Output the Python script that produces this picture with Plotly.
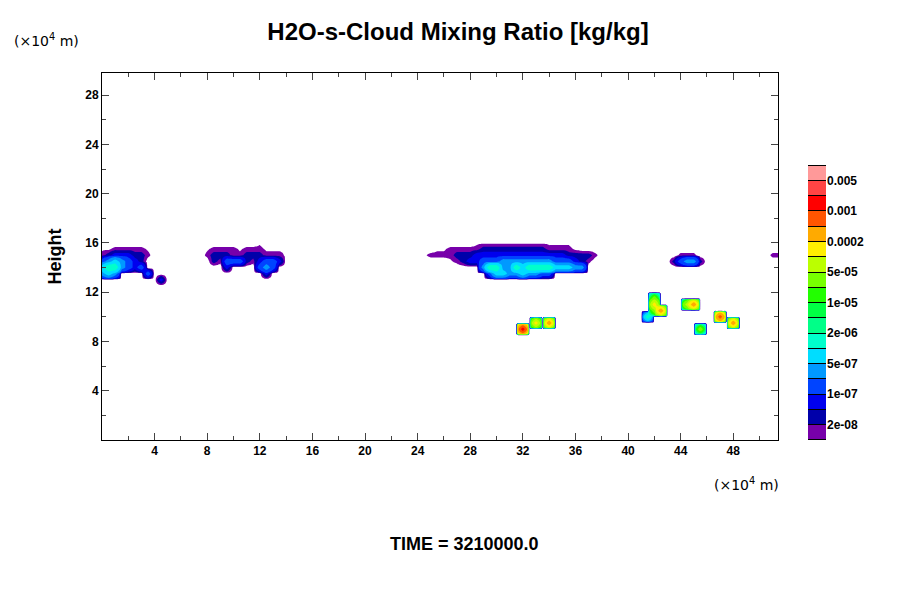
import numpy as np
import plotly.graph_objects as go

# contour levels [kg/kg] and the colour of each band between them
levels = [1e-8, 2e-8, 5e-8, 1e-7, 2e-7, 5e-7, 1e-6, 2e-6, 5e-6, 1e-5,
          2e-5, 5e-5, 1e-4, 2e-4, 5e-4, 1e-3, 2e-3, 5e-3, 1e-2]
band_colors = ['#7700AA', '#0000AA', '#0000EE', '#0044FF', '#0099FF', '#00DDFF',
               '#00FFCC', '#00FF88', '#00FF44', '#22FF00', '#77FF00', '#BBFF00',
               '#FFEE00', '#FFAA00', '#FF5500', '#FF0000', '#FF4444', '#FF9999']
cbar_labels = ['2e-08', '1e-07', '5e-07', '2e-06', '1e-05', '5e-05', '0.0002', '0.001', '0.005']

# cloud field: per height (x10^4 m), segments of
# (start x, band digits every 0.5 in x); digit = band index (base 36)
cloud_rows = {
    16.0: [(12.0, "0"), (28.5, "000000000000000")],
    15.5: [(0.0, "00111110"), (8.0, "0111101110000"), (25.5, "0011111222222222211110")],
    15.0: [(0.0, "12333221"), (8.0, "1222112221110"), (24.5, "011112223333333333333322221"),
           (44.0, "111"), (51.0, "11")],
    14.5: [(0.0, "4565432"), (8.5, "21444213443"), (26.5, "0123344455555555444321"),
           (43.5, "24552")],
    14.0: [(0.0, "6775434"), (9.5, "3"), (12.0, "454"), (29.0, "5775576777766655")],
    13.5: [(0.0, "565"), (3.5, "4"), (12.5, "3"), (29.5, "4665565544")],
    13.0: [(4.5, "3")],
    11.5: [(42.0, "a")],
    11.0: [(42.0, "c"), (44.5, "bd")],
    10.5: [(42.0, "ad")],
    10.0: [(41.5, "7"), (47.0, "e")],
    9.5: [(33.0, "c"), (34.0, "d"), (48.0, "d")],
    9.0: [(32.0, "f"), (45.5, "a")],
}

# coarse grid of mixing ratio values (0 = no cloud)
xg = np.arange(0, 52.01, 0.5)
yg = np.arange(0, 30.01, 0.5)
centers = np.sqrt(np.array(levels[:-1]) * np.array(levels[1:]))
q = np.zeros((len(yg), len(xg)))
for yv, segs in cloud_rows.items():
    j = int(round(yv / 0.5))
    for x0, digits in segs:
        i0 = int(round(x0 / 0.5))
        for k, ch in enumerate(digits):
            if i0 + k < len(xg):
                q[j, i0 + k] = centers[int(ch, 36)]

# bilinear refinement of the linear field, then map to band index
xf = np.arange(0, 52.01, 0.1)
yf = np.arange(0, 30.01, 0.1)
qx = np.array([np.interp(xf, xg, row) for row in q])
qf = np.array([np.interp(yf, yg, col) for col in qx.T]).T
with np.errstate(divide='ignore'):
    lq = np.log10(qf)
nb = len(band_colors)
zf = np.where(qf > 0, np.interp(lq, np.log10(levels), np.arange(nb + 1), left=-1), -1)

allc = ['#FFFFFF'] + band_colors
cs = []
for k, c in enumerate(allc):
    cs.append([k / len(allc), c])
    cs.append([(k + 1) / len(allc), c])

fig = go.Figure()
fig.add_trace(go.Contour(
    x=xf, y=yf, z=zf, colorscale=cs, zmin=-1, zmax=nb, showscale=False,
    contours=dict(start=0, end=nb, size=1, coloring='fill'),
    line=dict(width=0), hoverinfo='skip'))

for k, c in enumerate(band_colors):
    fig.add_trace(go.Bar(x=[0], y=[1], marker=dict(color=c, line=dict(color='black', width=1)),
                         width=1, xaxis='x2', yaxis='y2', showlegend=False))

tf = dict(family='Liberation Sans', size=12, color='black', weight='bold')
fig.update_layout(
    width=900, height=600, barmode='stack', plot_bgcolor='white', paper_bgcolor='white',
    margin=dict(l=94, r=82, t=65, b=168), showlegend=False,
    xaxis=dict(domain=[0, 0.9337], range=[0, 51.4], tickvals=list(range(4, 49, 4)),
               ticks='inside', ticklen=7, showline=True, linecolor='black', mirror='ticks',
               showgrid=False, zeroline=False, tickfont=tf,
               minor=dict(tickvals=list(range(2, 51, 4)), ticks='inside', ticklen=4)),
    yaxis=dict(range=[0, 29.8], tickvals=list(range(4, 29, 4)), ticks='inside', ticklen=7,
               showline=True, linecolor='black', mirror='ticks', showgrid=False,
               zeroline=False, tickfont=tf,
               title=dict(text='Height', font=dict(family='Liberation Sans', size=18,
                                                    color='black', weight='bold'), standoff=18),
               minor=dict(tickvals=list(range(2, 29, 4)), ticks='inside', ticklen=4)),
    xaxis2=dict(domain=[0.975, 1.0], range=[-0.5, 0.5], visible=False),
    yaxis2=dict(domain=[0, 0.749], range=[0, nb], anchor='x2', side='right',
                tickvals=list(range(1, nb, 2)), ticktext=cbar_labels, ticks='',
                showgrid=False, zeroline=False, tickfont=tf),
    title=dict(text='H2O-s-Cloud Mixing Ratio [kg/kg]', x=0.5, xanchor='center', y=0.975,
               font=dict(family='Liberation Sans', size=24, color='black', weight='bold')),
    annotations=[
        dict(text='(×10<sup>4</sup> m)', xref='paper', yref='paper', x=-0.125, y=1.06,
             xanchor='left', yanchor='bottom', showarrow=False,
             font=dict(family='DejaVu Sans', size=14, color='black')),
        dict(text='(×10<sup>4</sup> m)', xref='paper', yref='paper', x=0.842, y=-0.09,
             xanchor='left', yanchor='top', showarrow=False,
             font=dict(family='DejaVu Sans', size=14, color='black')),
        dict(text='TIME = 3210000.0', xref='paper', yref='paper', x=0.5, y=-0.25,
             xanchor='center', yanchor='top', showarrow=False,
             font=dict(family='Liberation Sans', size=18, color='black', weight='bold')),
    ],
)
fig.write_html("out.html")
